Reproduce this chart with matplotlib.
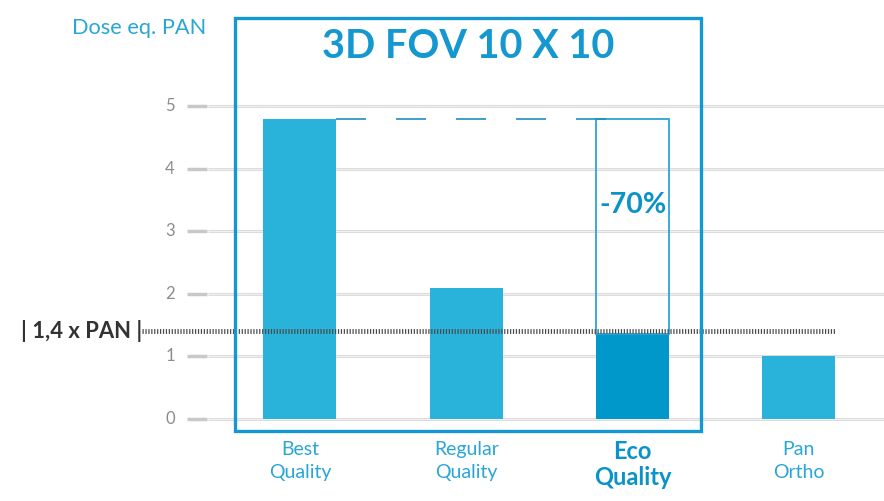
import matplotlib
matplotlib.use("Agg")
import matplotlib.pyplot as plt
from matplotlib.patches import Rectangle

plt.rcParams['font.family'] = ['Lato', 'DejaVu Sans']

categories = ["Best\nQuality", "Regular\nQuality", "Eco\nQuality", "Pan\nOrtho"]
values = [4.8, 2.1, 1.35, 1.0]
y_ticks = [0, 1, 2, 3, 4, 5]
reference_level = 1.4
best_value = 4.8
reduction_label = "-70%"
ref_label = "| 1,4 x PAN |"
y_title = "Dose eq. PAN"
box_title = "3D FOV 10 X 10"

BAR = "#29b2da"
ECO = "#0097cb"
DARKBLUE = "#0a93c8"
LIGHTBLUE = "#2aa6d6"

W, H = 884, 501
fig = plt.figure(figsize=(W / 100, H / 100), dpi=100)
ax = fig.add_axes([0, 0, 1, 1])
ax.axis("off")

# data mapping: category spacing ~166.3 px, center of cat 0 at px 300; y0 at px 419, 62.6 px/unit
sp = 166.3
ppu = 62.6
ax.set_xlim((0 - 300) / sp, (W - 300) / sp)
ax.set_ylim(-(H - 419) / ppu, 419 / ppu)

def px(p):
    return (p - 300) / sp

def fx(p):
    return p / W

def fy(p):
    return 1 - p / H

# grid lines + tick stubs
for t in y_ticks:
    ax.plot([px(208), px(W)], [t, t], color="#dcdcdc", lw=2.2, zorder=0, solid_capstyle="butt")
    ax.plot([px(208), px(W)], [t, t], color="#f4f4f4", lw=0.6, zorder=0, solid_capstyle="butt")
    ax.plot([px(187), px(207)], [t, t], color="#c8c8c8", lw=2.5, zorder=0, solid_capstyle="butt")
    ax.text(px(170), t, str(t), ha="center", va="center", color="#8c8c8c", fontsize=12)

xs = list(range(len(categories)))
bw = 73 / sp
colors = [BAR, BAR, ECO, BAR]
ax.bar(xs, values, width=bw, color=colors, zorder=2)

# ghost bar for Eco
ax.bar([xs[2]], [best_value - values[2]], bottom=[values[2]], width=bw,
       facecolor="none", edgecolor=LIGHTBLUE, lw=1.3, zorder=3)

# dashed line at best level
ax.plot([xs[0] + bw / 2, xs[2] - bw / 2 + 10 / sp], [best_value, best_value], color="#1f8ec4",
        lw=1.2, dashes=(18, 18), zorder=3, solid_capstyle="butt", dash_capstyle="butt")

# reference dotted line
ax.plot([px(142), px(836)], [reference_level, reference_level], color="#4a4a4a",
        lw=3.5, dashes=(0.25, 0.35), zorder=4, solid_capstyle="butt")
ax.text(px(21), reference_level, ref_label, ha="left", va="center", color="#333333",
        fontsize=15.8, fontweight="bold")

# -70% label
ax.text(xs[2], 3.42, reduction_label, ha="center", va="center", color=DARKBLUE,
        fontsize=20.5, fontweight="bold", zorder=5)

# box
rect = Rectangle((fx(235), fy(431)), fx(701) - fx(235), fy(18) - fy(431),
                 transform=fig.transFigure, facecolor="none", edgecolor="#1598d0",
                 lw=2.4, zorder=6)
fig.patches.append(rect)
fig.text(fx(468), fy(47), box_title, ha="center", va="center", color="#1598d0",
         fontsize=28.5, fontweight="bold")

fig.text(fx(72), fy(28), y_title, ha="left", va="center", color=LIGHTBLUE, fontsize=15.7)

# category labels
for i, c in enumerate(categories):
    if i == 2:
        ax.text(xs[i], -(464.5 - 419) / ppu, c, ha="center", va="center", color=DARKBLUE,
                fontsize=17, fontweight="bold", linespacing=1.14)
    else:
        ax.text(xs[i], -(461 - 419) / ppu, c, ha="center", va="center", color=LIGHTBLUE,
                fontsize=14, linespacing=1.4)

fig.savefig("out.png", dpi=100)
